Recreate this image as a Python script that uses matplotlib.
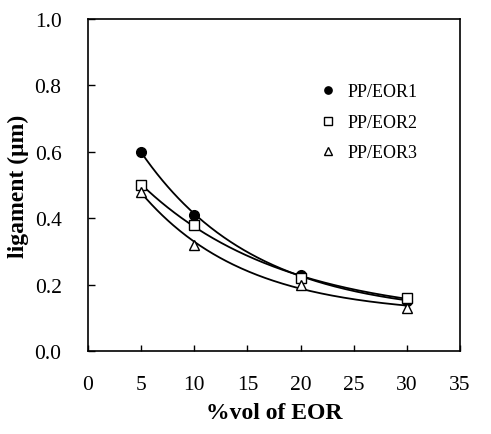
import numpy as np
import matplotlib.pyplot as plt

plt.rcParams['font.family'] = ['Liberation Serif', 'DejaVu Serif']

# %vol of EOR
x = [5, 10, 20, 30]
eor1 = [0.60, 0.41, 0.23, 0.15]
eor2 = [0.50, 0.38, 0.22, 0.16]
eor3 = [0.48, 0.32, 0.20, 0.13]

series = [
    ('PP/EOR1', eor1, dict(marker='o', mfc='black', mec='black', ms=7)),
    ('PP/EOR2', eor2, dict(marker='s', mfc='white', mec='black', ms=7)),
    ('PP/EOR3', eor3, dict(marker='^', mfc='white', mec='black', ms=7)),
]


def decay_fit(xv, yv):
    # least squares y = a*exp(b*x) + c, scan b and solve a, c linearly
    xv, yv = np.asarray(xv, float), np.asarray(yv, float)
    best = None
    for b in np.linspace(-0.3, -0.01, 2901):
        A = np.column_stack([np.exp(b * xv), np.ones_like(xv)])
        coef, *_ = np.linalg.lstsq(A, yv, rcond=None)
        err = np.sum((A @ coef - yv) ** 2)
        if best is None or err < best[0]:
            best = (err, coef[0], b, coef[1])
    return best[1:]


fig = plt.figure(figsize=(4.91, 4.35), dpi=100)
ax = fig.add_axes([0.179, 0.191, 0.758, 0.763])

xs = np.linspace(5, 30, 200)
for name, y, style in series:
    a, b, c = decay_fit(x, y)
    ax.plot(xs, a * np.exp(b * xs) + c, color='black', lw=1.3, zorder=2)
    ax.plot(x, y, ls='none', label=name, mew=1.0, zorder=3, **style)

ax.set_xlim(0, 35)
ax.set_ylim(0, 1.0)
ax.set_xticks(range(0, 36, 5))
ax.set_yticks(np.arange(0, 1.01, 0.2))
ax.yaxis.set_major_formatter(plt.FormatStrFormatter('%.1f'))
ax.tick_params(direction='in', length=5, labelsize=15.5, width=1)
ax.tick_params(axis='x', length=4, pad=17)
ax.tick_params(axis='y', pad=19)
for s in ax.spines.values():
    s.set_linewidth(1.2)

ax.set_xlabel('%vol of EOR', fontsize=17, fontweight='bold', labelpad=6)
ax.set_ylabel('ligament (\u03bcm)', fontsize=17, fontweight='bold', labelpad=4)

ax.legend(loc='upper right', bbox_to_anchor=(0.93, 0.855), frameon=False,
          fontsize=13, handletextpad=0.1, labelspacing=0.75, markerscale=0.75)

fig.savefig('out.png', dpi=100, facecolor='white')
